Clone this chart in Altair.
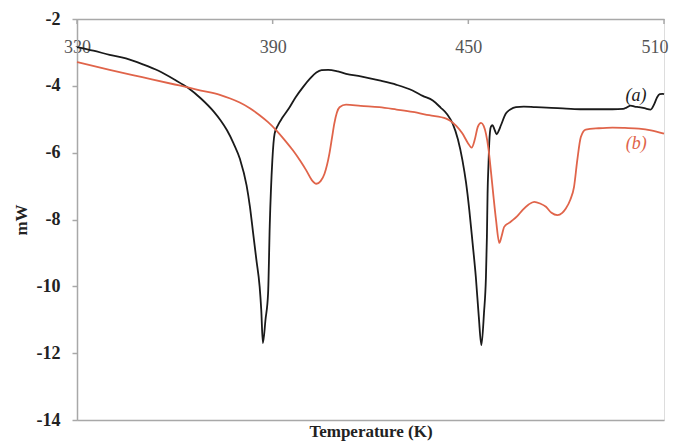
import altair as alt
import pandas as pd

# Curve (a) - black
a_T = [330, 335, 340, 345, 350, 355, 360, 364, 368, 372, 374, 376, 378, 380, 382, 383, 384, 385, 386,
       386.5, 387, 387.8, 388.6, 389.1, 389.9, 390.6, 391.6, 393, 395.2, 397, 399.3, 401.5, 403.4, 405,
       407, 410, 412.5, 417, 422.7, 428, 432.9, 436, 439.1, 441.5, 443.5, 445.2, 446.8, 448.2, 449.3,
       450.3, 451.3, 452.3, 453.2, 454, 454.8, 455.4, 455.7, 455.9, 456.2, 456.4, 456.9, 457.4, 458.0,
       458.7, 459.3, 460, 461.5, 463, 464.6, 467, 470.7, 474, 480, 485, 490, 494.2, 497.5, 498.5, 499.8,
       501, 502.3, 504, 505.9, 507, 507.9, 508.7, 509.5, 510]
a_V = [-2.84, -2.95, -3.07, -3.18, -3.35, -3.55, -3.82, -4.06, -4.38, -4.78, -5.03, -5.33, -5.72, -6.2,
       -6.98, -7.6, -8.4, -9.2, -10.0, -10.7, -11.7, -11.0, -10.2, -8.2, -6.23, -5.43, -5.18, -4.95,
       -4.64, -4.35, -4.04, -3.78, -3.6, -3.53, -3.52, -3.57, -3.64, -3.72, -3.84, -3.97, -4.14, -4.3,
       -4.44, -4.65, -4.85, -5.13, -5.6, -6.23, -6.9, -7.72, -8.7, -9.72, -10.9, -11.76, -10.8, -9.72,
       -8.5, -7.22, -6.3, -5.73, -5.23, -5.18, -5.3, -5.45, -5.35, -5.18, -4.83, -4.7, -4.64, -4.62,
       -4.64, -4.65, -4.68, -4.7, -4.7, -4.7, -4.69, -4.65, -4.59, -4.62, -4.64, -4.67, -4.71, -4.55,
       -4.34, -4.25, -4.24, -4.25]

# Curve (b) - red
b_T = [330, 340, 350, 360, 363.7, 368, 373.8, 377, 379.9, 383, 386, 388.5, 391.1, 393.5, 396.2, 398.5,
       400.3, 402, 403.4, 404.7, 405.9, 407.4, 408.2, 408.9, 409.7, 410.5, 412.5, 417, 422.7, 428,
       432.9, 438, 443.2, 444.2, 446.3, 448.2, 449.8, 451, 452, 452.9, 453.9, 454.7, 455.4, 456.2,
       456.9, 457.7, 458.5, 459.5, 460.2, 461, 462.5, 463.6, 465, 466.6, 468.5, 470.2, 472, 473.8,
       475.5, 477.3, 478.8, 479.9, 481.3, 482.4, 483.4, 484.5, 486, 490, 494.2, 498, 502.3, 506, 510]
b_V = [-3.29, -3.52, -3.74, -3.96, -4.04, -4.14, -4.27, -4.38, -4.5, -4.67, -4.88, -5.08, -5.33, -5.6,
       -5.93, -6.25, -6.53, -6.82, -6.93, -6.85, -6.63, -6.03, -5.55, -5.13, -4.8, -4.64, -4.56, -4.6,
       -4.64, -4.71, -4.78, -4.88, -4.98, -5.03, -5.2, -5.43, -5.7, -5.85, -5.6, -5.23, -5.11, -5.2,
       -5.43, -5.9, -6.53, -7.3, -8.02, -8.7, -8.5, -8.22, -8.1, -8.02, -7.9, -7.72, -7.55, -7.47,
       -7.52, -7.62, -7.8, -7.87, -7.8, -7.67, -7.4, -7.03, -6.23, -5.53, -5.31, -5.27, -5.25, -5.26,
       -5.28, -5.33, -5.43]

x_ticks = [330, 390, 450, 510]
y_ticks = [-14, -12, -10, -8, -6, -4, -2]

label_text = ["(a)", "(b)"]
label_T = [501.4, 501.5]
label_V = [-4.29, -5.75]

BLACK = "#1a1a1a"
RED = "#e0644a"
GRAY = "#a8a8a8"

df_a = pd.DataFrame({"T": a_T, "V": a_V, "s": "a"})
df_b = pd.DataFrame({"T": b_T, "V": b_V, "s": "b"})
df_lab = pd.DataFrame({"T": label_T, "V": label_V, "t": label_text, "s": ["a", "b"]})
df_ticks = pd.DataFrame({"T": x_ticks})

xscale = alt.Scale(domain=[330, 510], nice=False, zero=False)
yscale = alt.Scale(domain=[-14, -2], nice=False, zero=False)
color = alt.Color("s:N", scale=alt.Scale(domain=["a", "b"], range=[BLACK, RED]), legend=None)

y_axis = alt.Axis(
    values=y_ticks, tickSize=5, tickColor=GRAY, tickWidth=1.5, labelPadding=12,
    labelFont="Liberation Serif", labelFontSize=18, labelFontWeight="bold", labelColor="#222222",
    domainColor=GRAY, domainWidth=1.5, grid=False, title="mW", titleFont="Liberation Serif",
    titleFontSize=17, titleFontWeight="bold", titleColor="#222222", titlePadding=6,
    labelExpr="'' + datum.value")

x_top = alt.X("T:Q", scale=xscale, axis=alt.Axis(
    orient="top", values=x_ticks, ticks=False, tickSize=0, labelPadding=-33,
    labelBaseline="alphabetic", labelFont="Liberation Serif", labelFontSize=18,
    labelColor="#555555", domainColor=GRAY, domainWidth=1.5, grid=False, title=None,
    labelExpr="'' + datum.value", labelFlush=False,
    labelAlign={"expr": "datum.value >= 510 ? 'right' : 'center'"},
    labelOffset={"expr": "datum.value >= 510 ? 4 : 0"}))
y_enc = alt.Y("V:Q", scale=yscale, axis=y_axis)

line_a = alt.Chart(df_a).mark_line(interpolate="monotone", strokeWidth=1.8).encode(
    x=x_top, y=y_enc, color=color)
line_b = alt.Chart(df_b).mark_line(interpolate="monotone", strokeWidth=1.8).encode(
    x=alt.X("T:Q", scale=xscale, axis=None), y=y_enc, color=color)

ticks = alt.Chart(df_ticks).mark_rule(color=GRAY, strokeWidth=1.5).encode(
    x=alt.X("T:Q", scale=xscale, axis=alt.Axis(
        orient="bottom", labels=False, ticks=False, domainColor=GRAY, domainWidth=1.5,
        grid=False, title="Temperature (K)", titleFont="Liberation Serif", titleFontSize=17,
        titleFontWeight="bold", titleColor="#222222", titlePadding=3)),
    y=alt.value(0), y2=alt.value(5))

labels = alt.Chart(df_lab).mark_text(font="Liberation Serif", fontSize=18, fontStyle="italic",
                                      align="center", baseline="middle").encode(
    x=alt.X("T:Q", scale=xscale, axis=None), y=y_enc,
    text="t:N", color=color)

chart = alt.layer(line_a, line_b, labels, ticks).resolve_axis(x="independent").properties(
    width=587, height=401,
    autosize=alt.AutoSizeParams(type="none"),
    padding={"left": 69, "top": 11, "right": 5, "bottom": 24},
).configure_view(stroke=GRAY, strokeWidth=1.5).configure(background="white")

chart.save("out.html", embed_options={"renderer": "svg", "actions": False})
